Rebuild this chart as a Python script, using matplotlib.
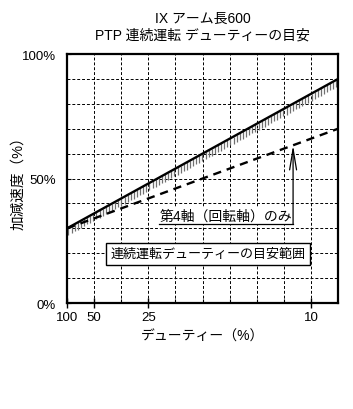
import numpy as np
import matplotlib
matplotlib.use('Agg')
import matplotlib.pyplot as plt
import matplotlib.ticker as ticker

plt.rcParams['font.family'] = ['Liberation Sans', 'Noto Sans CJK JP', 'DejaVu Sans']

# x axis: 100 / duty(%)  -> 100% = 1, 50% = 2, 25% = 4, 10% = 10
duty_labels = ['100', '50', '25', '10']
duty_pos = [1, 2, 4, 10]

# continuous-duty limit (all axes) and 4th axis only, in % of max accel
limit_x = [1, 11]
limit_y = [30, 90]
axis4_x = [1, 11]
axis4_y = [30, 70]

title = 'IX アーム長600\nPTP 連続運転 デューティーの目安'

fig = plt.figure(figsize=(3.53, 4.10), dpi=100)
ax = fig.add_axes([0.190, 0.2585, 0.7677, 0.6073])

ax.set_xlim(1, 11)
ax.set_ylim(0, 100)

# grid
for gx in range(2, 11):
    ax.axvline(gx, color='black', lw=0.7, ls=(0, (3, 2)), zorder=1)
for gy in range(10, 100, 10):
    ax.axhline(gy, color='black', lw=0.7, ls=(0, (3, 2)), zorder=1)

# hatching below the limit line
hx = np.arange(1.05, 11, 0.115)
hy = np.interp(hx, limit_x, limit_y)
ax.vlines(hx, hy - 2.9, hy, color='#707070', lw=0.9, zorder=2)

ax.plot(limit_x, limit_y, color='black', lw=1.7, zorder=3)
ax.plot(axis4_x, axis4_y, color='black', lw=1.7, ls=(0, (3.5, 2.5)), zorder=3)

# 4th axis note with leader line
ax.text(9.3, 32.3, '第4軸（回転軸）のみ', fontsize=10, ha='right', va='bottom',
        bbox=dict(facecolor='white', edgecolor='none', pad=1.5), zorder=4)
ax.plot([4.4, 9.34], [31.7, 31.7], color='black', lw=0.9, zorder=5)
tip_y = np.interp(9.34, axis4_x, axis4_y)
ax.annotate('', xy=(9.34, tip_y), xytext=(9.34, 31.7),
            arrowprops=dict(arrowstyle='->,head_length=1.5,head_width=0.25',
                            color='black', lw=0.9, shrinkA=0, shrinkB=0),
            fontsize=10, zorder=5)

ax.text(6.2, 19.7, '連続運転デューティーの目安範囲', fontsize=9.4, ha='center', va='center',
        bbox=dict(facecolor='white', edgecolor='black', lw=1.0, pad=3.5), zorder=4)

# ticks
ax.xaxis.set_major_locator(ticker.FixedLocator(duty_pos))
ax.xaxis.set_major_formatter(ticker.FixedFormatter(duty_labels))
ax.xaxis.set_minor_locator(ticker.FixedLocator([3, 5, 6, 7, 8, 9]))
ax.tick_params(axis='x', which='major', direction='inout', length=7, width=1, labelsize=9.5, pad=2)
ax.tick_params(axis='x', which='minor', direction='in', length=3, width=0.8)
ax.yaxis.set_major_locator(ticker.FixedLocator([0, 50, 100]))
ax.yaxis.set_major_formatter(ticker.FixedFormatter(['0%', '50%', '100%']))
ax.tick_params(axis='y', direction='in', length=3, width=0.8, labelsize=9.5, pad=8)

for s in ax.spines.values():
    s.set_linewidth(1.6)

ax.set_xlabel('デューティー（%）', fontsize=10, labelpad=4)
ax.set_ylabel('加減速度（%）', fontsize=10.5)
ax.yaxis.set_label_coords(-0.155, 0.5)
ax.set_title(title, fontsize=10, linespacing=1.3, pad=11)

fig.savefig('out.png', dpi=100)
